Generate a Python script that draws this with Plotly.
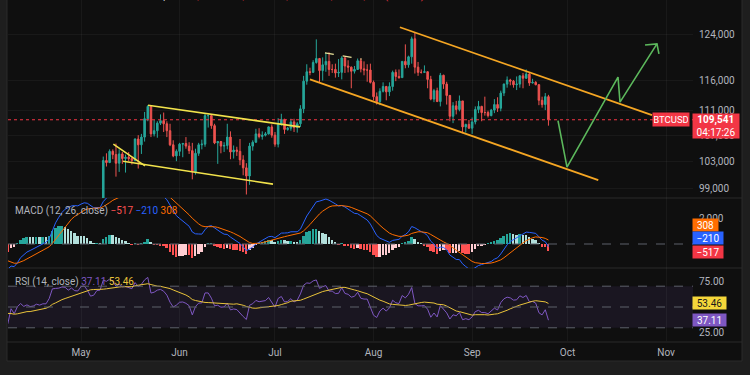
import numpy as np
import pandas as pd
import plotly.graph_objects as go

# ---------------- data (BTC/USD daily) ----------------
warmup_start = "2025-02-01"
warmup_closes = [
    100600, 97700, 101400, 97800, 96600, 96500, 96500, 96500, 96500, 97400, 95700, 98000, 96600, 97500,
    97600, 96100, 95800, 95500, 96600, 98300, 96100, 96600, 96100, 91500, 88700, 84300, 84700, 84400,
    86000, 94200, 86100, 87200, 90600, 89900, 86700, 86100, 80700, 78500, 82900, 83700, 81000, 83900,
    84300, 82600, 84000, 82700, 86800, 84200, 84000, 83800, 86100, 87500, 87400, 86900, 87200, 84300,
    82600, 82400, 82500,
    85200, 82500, 83100, 83800, 83500, 78200, 79200, 76300, 82600, 79600, 83400, 85300, 83700, 84600,
    83700, 84000, 84900, 84500, 85100, 85100, 87500, 93400, 93700, 93900, 94700, 94600, 93800, 95000,
    94300, 94200,
    96500, 96900, 95900, 94300, 94700, 96800, 97000,
]

ohlc_start = "2025-05-08"
opens = [
    97000, 103200, 102900, 104600, 104100, 102800, 104200, 103500, 103700, 103500, 103200, 106500,
    105600, 106800, 109700, 111700, 107300, 107800, 109000, 109400, 108900, 107800, 105600, 103900,
    104600, 105700, 105800, 105400, 104700, 101500, 104300, 105600, 105700, 110200, 110200, 108600,
    105900, 106100, 105400, 105500, 106800, 104500, 104800, 104600, 103300, 102100, 100900, 105400,
    106000, 107300, 106900, 107100, 107300, 108400,
    107100, 105700, 108800, 109600, 108000, 108200, 109200, 108300, 108900, 111300, 115900, 117500,
    117400, 119100, 119800, 117700, 118700, 119300, 117900, 117900, 117300, 117400, 119900, 118500,
    118300, 117600, 117900, 119400, 118000, 117800, 117800,
    115700, 113300, 112500, 114200, 115000, 114100, 115000, 117400, 116700, 116500, 119300, 118700,
    120100, 123300, 118300, 117400, 117400, 117500, 116200, 112900, 114300, 112500, 116900, 115400,
    113500, 110100, 111800, 111200, 112600, 108400, 108800,
    108200, 109200, 111200, 111700, 110700, 110700, 110200, 111100, 112000, 111400, 113900, 115400,
    116100, 115900, 115300, 115400, 116800, 116400, 117100, 115600, 115700, 115300, 112700, 112000,
    113300,
]
highs = [
    103800, 104300, 104900, 104900, 105800, 104900, 104500, 104100, 104500, 103700, 106600, 107100,
    107300, 110800, 111900, 111800, 109500, 109300, 110400, 110700, 109300, 108900, 106300, 104900,
    105900, 105900, 106800, 106000, 105900, 105000, 105900, 106400, 110600, 110400, 110400, 108900,
    106200, 106200, 106000, 108900, 107700, 105500, 105300, 106500, 104000, 102800, 105900, 106300,
    108100, 108200, 107700, 107600, 108500, 108800,
    107600, 109800, 110500, 109700, 108400, 109700, 109700, 109200, 111900, 116800, 118800, 118200,
    119500, 123200, 119900, 120000, 120800, 120900, 118800, 118900, 119700, 120200, 120100, 119500,
    118400, 118500, 119800, 119800, 119300, 118800, 118900,
    116000, 114000, 114700, 115700, 115100, 115700, 117700, 117900, 117900, 119300, 122300, 120300,
    123700, 124400, 119200, 117900, 118600, 117600, 116800, 114600, 114800, 117300, 117000, 115800,
    113600, 112400, 112600, 113500, 112600, 108900, 109500,
    109900, 111700, 112600, 111800, 113300, 111000, 111300, 112900, 113200, 114300, 115500, 116700,
    116300, 116100, 116700, 116900, 117300, 117900, 117400, 116300, 115900, 115400, 113300, 113900,
    113600,
]
lows = [
    96900, 102300, 102800, 103400, 100800, 101500, 102700, 101400, 103100, 102600, 103100, 102000,
    104200, 106100, 109300, 106800, 106900, 106700, 108700, 107600, 106800, 105400, 103700, 103100,
    103900, 103700, 105000, 104200, 100400, 101100, 103900, 104900, 105300, 108300, 108100, 105700,
    102700, 104300, 104500, 104900, 103400, 103500, 103900, 102500, 101000, 98200, 99600, 104700,
    105900, 106600, 106400, 106900, 107200, 106700,
    105300, 105200, 108600, 107300, 107800, 107800, 107600, 107500, 108400, 110600, 115300, 116900,
    117300, 118900, 115700, 116000, 117500, 116800, 117300, 116500, 116600, 116200, 117300, 117400,
    114700, 117200, 117800, 117400, 116900, 115800, 115500,
    112700, 112000, 111900, 114000, 112700, 113400, 114300, 115900, 116300, 116500, 118100, 118200,
    118900, 117200, 116800, 117200, 117300, 114700, 112700, 112400, 112400, 111700, 114600, 112000,
    109300, 109000, 110400, 110900, 107400, 107500, 108100,
    107300, 108800, 110600, 109300, 110200, 109900, 110100, 110600, 110800, 110900, 113400, 114800,
    115200, 114800, 114400, 114800, 114700, 116300, 115100, 115500, 115200, 111900, 111500, 111100,
    108600,
]
closes = [
    103200, 102900, 104600, 104100, 102800, 104200, 103500, 103700, 103500, 103200, 106500, 105600,
    106800, 109700, 111700, 107300, 107800, 109000, 109400, 108900, 107800, 105600, 103900, 104600,
    105700, 105800, 105400, 104700, 101500, 104300, 105600, 105700, 110200, 110200, 108600, 105900,
    106100, 105400, 105500, 106800, 104500, 104800, 104600, 103300, 102100, 100900, 105400, 106000,
    107300, 106900, 107100, 107300, 108400, 107100,
    105700, 108800, 109600, 108000, 108200, 109200, 108300, 108900, 111300, 115900, 117500, 117400,
    119100, 119800, 117700, 118700, 119300, 117900, 117900, 117300, 117400, 119900, 118500, 118300,
    117600, 117900, 119400, 118000, 117800, 117800, 115700,
    113300, 112500, 114200, 115000, 114100, 115000, 117400, 116700, 116500, 119300, 118700, 120100,
    123300, 118300, 117400, 117400, 117500, 116200, 112900, 114300, 112500, 116900, 115400, 113500,
    110100, 111800, 111200, 112600, 108400, 108800, 108200,
    109200, 111200, 111700, 110700, 110700, 110200, 111100, 112000, 111400, 113900, 115400, 116100,
    115900, 115300, 115400, 116800, 116400, 117100, 115600, 115700, 115300, 112700, 112000, 113300,
    109541,
]

price_ticks = [99000, 103000, 107000, 111000, 116000, 124000]
macd_ticks = [2000]
rsi_ticks = [25, 75]
month_ticks = ["2025-05-01", "2025-06-01", "2025-07-01", "2025-08-01", "2025-09-01", "2025-10-01", "2025-11-01"]
month_labels = ["May", "Jun", "Jul", "Aug", "Sep", "Oct", "Nov"]

# displayed indicator readouts
macd_hist_label, macd_label, signal_label = "−517", "−210", "308"
rsi_label, rsi_ma_label = "37.11", "53.46"
rsi_label_val, rsi_ma_label_val = 37.11, 53.46
header_name = "Bitcoin / U.S. Dollar · 1D · Bitstamp"
header_ohlc = "O113,307 H113,612 L108,632 C109,541 −3,766 (−3.32%)"
countdown = "04:17:26"

# drawings (date, price)
yellow_upper = (["2025-05-22 02:00", "2025-07-08 21:00"], [111900, 108400])
yellow_lower = (["2025-05-14 05:00", "2025-06-30 09:00"], [103100, 99700])
yellow_small = (["2025-05-11 04:00", "2025-05-21 03:00"], [105700, 102400])
orange_upper = (["2025-08-09 07:00", "2025-10-27 14:00"], [125400, 110300])
orange_lower = (["2025-07-12 00:00", "2025-10-10 16:00"], [116200, 100300])
dashed_top = (["2025-07-16 17:00", "2025-07-28 06:00"], [120800, 119700])
green_path = (["2025-09-28 00:00", "2025-09-30 20:00", "2025-10-16 21:00", "2025-10-17 12:00", "2025-10-29 03:00"],
              [109400, 102200, 116600, 112400, 122400])
green_head = (["2025-10-25 09:00", "2025-10-29 03:00", "2025-10-29 18:00"], [122200, 122400, 120600])

# ---------------- indicators (standard definitions on the closes) ----------------
all_close = np.array(warmup_closes + closes, dtype=float)
all_dates = pd.date_range(warmup_start, periods=len(all_close), freq="D")
ohlc_dates = pd.date_range(ohlc_start, periods=len(closes), freq="D")


def ema(x, n):
    a = 2.0 / (n + 1)
    out = np.empty_like(x)
    out[0] = x[0]
    for i in range(1, len(x)):
        out[i] = a * x[i] + (1 - a) * out[i - 1]
    return out


def rma(x, n):
    out = np.empty_like(x)
    out[0] = x[0]
    for i in range(1, len(x)):
        out[i] = (x[i] + (n - 1) * out[i - 1]) / n
    return out


macd = ema(all_close, 12) - ema(all_close, 26)
signal = ema(macd, 9)
hist = macd - signal
hist_colors = []
for i, h in enumerate(hist):
    prev = hist[i - 1] if i > 0 else h
    if h >= 0:
        hist_colors.append("#26a69a" if h > prev else "#b2dfdb")
    else:
        hist_colors.append("#ffcdd2" if h > prev else "#ff5252")

d = np.diff(all_close, prepend=all_close[0])
up = rma(np.maximum(d, 0), 14)
dn = rma(np.maximum(-d, 0), 14)
rsi = 100 - 100 / (1 + up / np.where(dn == 0, 1e-9, dn))
rsi_ma = pd.Series(rsi).rolling(14).mean().to_numpy()

# ---------------- layout geometry ----------------
W, H = 750, 375
PL, PR, PT, PB = 8, 693, 0, 341          # plot area in px
Y_PRICE_BOT, Y_MACD_BOT = 198, 268
x_range = ["2025-04-08 01:00", "2025-11-09 11:00"]
price_range = [np.log10(97700), np.log10(130500)]
macd_range = [-1846, 3538]
rsi_range = [17.3, 87.5]

dom_rsi = [0, (PB - Y_MACD_BOT) / (PB - PT)]
dom_macd = [dom_rsi[1], (PB - Y_PRICE_BOT) / (PB - PT)]
dom_price = [dom_macd[1], 1]


def px_x(p):
    return (p - PL) / (PR - PL)


def px_y(p):
    return (PB - p) / (PB - PT)


def price_to_paper(v):
    f = (np.log10(v) - price_range[0]) / (price_range[1] - price_range[0])
    return dom_price[0] + f * (dom_price[1] - dom_price[0])


def rsi_to_paper(v):
    f = (v - rsi_range[0]) / (rsi_range[1] - rsi_range[0])
    return dom_rsi[0] + f * (dom_rsi[1] - dom_rsi[0])


UP, DOWN = "#26a69a", "#ef5350"
TXT = "#b2b5be"
FONT = "Roboto, sans-serif"

fig = go.Figure()

fig.add_trace(go.Candlestick(
    x=ohlc_dates, open=opens, high=highs, low=lows, close=closes,
    increasing=dict(line=dict(color=UP, width=1), fillcolor=UP),
    decreasing=dict(line=dict(color=DOWN, width=1), fillcolor=DOWN),
    whiskerwidth=0, xaxis="x", yaxis="y", hoverinfo="skip"))

# last price dotted line
fig.add_trace(go.Scatter(x=x_range, y=[closes[-1], closes[-1]], mode="lines",
                         line=dict(color="#f23645", width=1, dash="dot"), xaxis="x", yaxis="y"))


def add_line(pts, color, width=1.6, dash="solid"):
    fig.add_trace(go.Scatter(x=pts[0], y=pts[1], mode="lines", line=dict(color=color, width=width, dash=dash),
                             xaxis="x", yaxis="y", hoverinfo="skip"))


YEL, ORA, GRN = "#f2e34c", "#f5a623", "#5cb85c"
add_line(yellow_upper, YEL)
add_line(yellow_lower, YEL)
add_line(yellow_small, YEL)
add_line(orange_upper, ORA, 1.8)
add_line(orange_lower, ORA, 1.8)
add_line(dashed_top, "#e9e29a", 1.2, "dash")
add_line(green_path, GRN, 1.6)
add_line(green_head, GRN, 1.6)

# MACD
fig.add_trace(go.Bar(x=all_dates, y=hist, marker=dict(color=hist_colors, line=dict(width=0)),
                     width=0.62 * 86400000, xaxis="x", yaxis="y2", hoverinfo="skip"))
fig.add_trace(go.Scatter(x=all_dates, y=macd, mode="lines", line=dict(color="#2962ff", width=1),
                         xaxis="x", yaxis="y2", hoverinfo="skip"))
fig.add_trace(go.Scatter(x=all_dates, y=signal, mode="lines", line=dict(color="#ff6d00", width=1),
                         xaxis="x", yaxis="y2", hoverinfo="skip"))

# RSI
fig.add_trace(go.Scatter(x=all_dates, y=rsi, mode="lines", line=dict(color="#7e57c2", width=1),
                         xaxis="x", yaxis="y3", hoverinfo="skip"))
fig.add_trace(go.Scatter(x=all_dates, y=rsi_ma, mode="lines", line=dict(color="#e9c33a", width=1),
                         xaxis="x", yaxis="y3", hoverinfo="skip"))

shapes = []
# chart frame background
shapes.append(dict(type="rect", xref="paper", yref="paper", x0=px_x(7), x1=px_x(742), y0=px_y(361), y1=1.02,
                   fillcolor="#0f0f0f", line=dict(color="#2b2b2b", width=1), layer="below"))
# panel separators
for yy in (Y_PRICE_BOT, Y_MACD_BOT, PB + 1):
    shapes.append(dict(type="line", xref="paper", yref="paper", x0=px_x(7), x1=px_x(742), y0=px_y(yy), y1=px_y(yy),
                       line=dict(color="#2a2a2a", width=1), layer="below"))
# RSI band
shapes.append(dict(type="rect", xref="x domain", yref="y3", x0=0, x1=1, y0=30, y1=70,
                   fillcolor="rgba(126,87,194,0.10)", line=dict(width=0), layer="below"))
for lv in (70, 50, 30):
    shapes.append(dict(type="line", xref="x domain", yref="y3", x0=0, x1=1, y0=lv, y1=lv,
                       line=dict(color="#5d606b", width=1, dash="dash")))
shapes.append(dict(type="line", xref="x domain", yref="y2", x0=0, x1=1, y0=0, y1=0,
                   line=dict(color="#5d606b", width=1, dash="dash")))

ann = []
ann.append(dict(xref="paper", yref="paper", x=px_x(13), y=1, xanchor="left", yanchor="middle", yshift=4,
                showarrow=False, font=dict(family=FONT, size=10, color="#d1d4dc"),
                text=header_name + "  <span style='color:#f23645'>" + header_ohlc + "</span>"))
ann.append(dict(xref="paper", yref="paper", x=px_x(13), y=px_y(211), xanchor="left", yanchor="middle",
                showarrow=False, font=dict(family=FONT, size=10, color=TXT),
                text="MACD (12, 26, close) <span style='color:#ff5252'>" + macd_hist_label +
                     "</span> <span style='color:#2962ff'>" + macd_label +
                     "</span> <span style='color:#ff6d00'>" + signal_label + "</span>"))
ann.append(dict(xref="paper", yref="paper", x=px_x(13), y=px_y(282), xanchor="left", yanchor="middle",
                showarrow=False, font=dict(family=FONT, size=10, color=TXT),
                text="RSI (14, close) <span style='color:#7e57c2'>" + rsi_label +
                     "</span> <span style='color:#e9c33a'>" + rsi_ma_label + "</span>"))

# price tags
py_last = price_to_paper(closes[-1])
ann.append(dict(xref="paper", yref="paper", x=px_x(690), y=py_last, xanchor="right", yanchor="middle",
                showarrow=False, bgcolor="#f23645", borderpad=1, width=34, height=11,
                font=dict(family=FONT, size=9.5, color="white"), text="BTCUSD"))
ann.append(dict(xref="paper", yref="paper", x=px_x(692), y=py_last, xanchor="left", yanchor="top", yshift=7,
                showarrow=False, bgcolor="#f23645", borderpad=1, width=44, height=22, align="center",
                font=dict(family=FONT, size=10, color="white"),
                text="<b>" + f"{closes[-1]:,}" + "</b><br>" + countdown))

# MACD tags (stacked as in the chart)
for txt, col, cy, w in ((signal_label, "#ff6d00", 225, 23), (macd_label, "#2962ff", 238, 28),
                        (macd_hist_label, "#f23645", 251.5, 28)):
    ann.append(dict(xref="paper", yref="paper", x=px_x(692), y=px_y(cy), xanchor="left", yanchor="middle",
                    showarrow=False, bgcolor=col, borderpad=1, width=w, height=10,
                    font=dict(family=FONT, size=10, color="white"), text=txt))
# RSI tags
ann.append(dict(xref="paper", yref="paper", x=px_x(692), y=rsi_to_paper(rsi_ma_label_val), xanchor="left",
                yanchor="middle", showarrow=False, bgcolor="#f5d73a", borderpad=1, width=31, height=10,
                font=dict(family=FONT, size=10, color="#1a1a1a"), text=rsi_ma_label))
ann.append(dict(xref="paper", yref="paper", x=px_x(692), y=rsi_to_paper(rsi_label_val), xanchor="left",
                yanchor="middle", showarrow=False, bgcolor="#7e57c2", borderpad=1, width=31, height=10,
                font=dict(family=FONT, size=10, color="white"), text=rsi_label))

GRID = "rgba(255,255,255,0.045)"
axis_font = dict(family=FONT, size=10, color=TXT)
fig.update_layout(
    width=W, height=H,
    margin=dict(l=PL, r=W - PR, t=PT, b=H - PB),
    paper_bgcolor="#1e1e1e", plot_bgcolor="rgba(0,0,0,0)",
    showlegend=False, hovermode=False, dragmode=False,
    shapes=shapes, annotations=ann,
    xaxis=dict(type="date", range=x_range, domain=[0, 1], anchor="y3", tickvals=month_ticks, ticktext=month_labels,
               showgrid=True, gridcolor=GRID, zeroline=False, showline=False, ticks="",
               tickfont=axis_font, rangeslider=dict(visible=False), ticklabelstandoff=4, fixedrange=True),
    yaxis=dict(type="log", range=price_range, domain=dom_price, anchor="x", side="right",
               tickvals=price_ticks, ticktext=[f"{v:,}" for v in price_ticks], showgrid=True, gridcolor=GRID,
               zeroline=False, ticks="", tickfont=axis_font, ticklabelstandoff=5, fixedrange=True),
    yaxis2=dict(range=macd_range, domain=dom_macd, anchor="x", side="right", tickvals=macd_ticks,
                ticktext=[f"{v:,}" for v in macd_ticks], showgrid=False, zeroline=False, ticks="",
                tickfont=axis_font, ticklabelstandoff=5, fixedrange=True),
    yaxis3=dict(range=rsi_range, domain=dom_rsi, anchor="x", side="right", tickvals=rsi_ticks,
                ticktext=[f"{v:.2f}" for v in rsi_ticks], showgrid=False, zeroline=False, ticks="",
                tickfont=axis_font, ticklabelstandoff=5, fixedrange=True),
    bargap=0,
)

fig.write_html("out.html", config={"displayModeBar": False},
               post_script="document.body.style.margin='0';document.body.style.background='#1e1e1e';")
